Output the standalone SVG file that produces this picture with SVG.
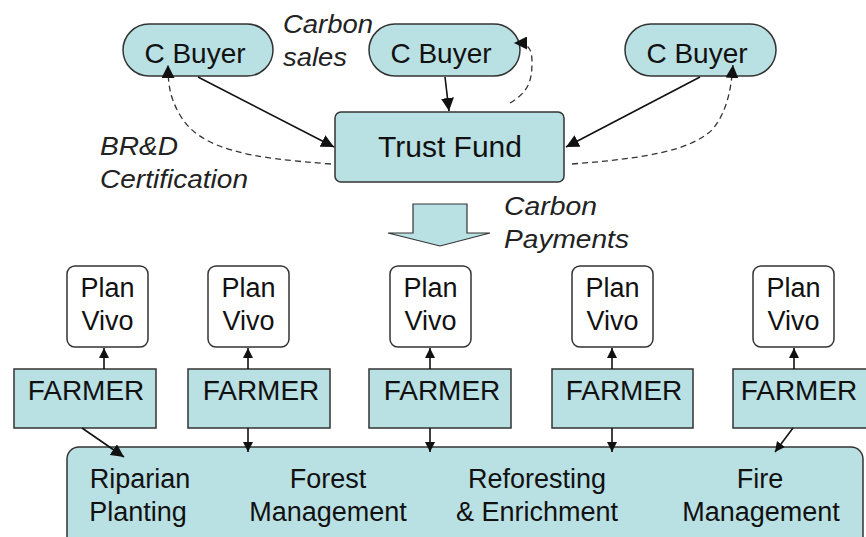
<svg xmlns="http://www.w3.org/2000/svg" width="866" height="537" viewBox="0 0 866 537">
<defs>
<style>
.box{fill:#b9e0e3;stroke:#333;stroke-width:1.5}
.pv{fill:#fff;stroke:#333;stroke-width:1.5}
.t{font-family:"Liberation Sans",Arial,sans-serif;fill:#111;text-anchor:middle}
.it{font-family:"Liberation Sans",Arial,sans-serif;font-style:italic;fill:#222;font-size:25px}
.solid{fill:none;stroke:#111;stroke-width:1.6}
.dash{fill:none;stroke:#333;stroke-width:1.3;stroke-dasharray:6,4}
</style>
<marker id="ah" viewBox="0 0 10 10" refX="10" refY="5" markerWidth="10" markerHeight="10" markerUnits="userSpaceOnUse" orient="auto">
<path d="M0,0 L10,5 L0,10 Z" fill="#111"/>
</marker>
<marker id="ahb" viewBox="0 0 10 10" refX="10" refY="5" markerWidth="13" markerHeight="13" markerUnits="userSpaceOnUse" orient="auto">
<path d="M0,0 L10,5 L0,10 Z" fill="#111"/>
</marker>
</defs>
<rect width="866" height="537" fill="#fff"/>

<g id="buyer1"><rect class="box" x="123" y="24" width="150" height="52" rx="26"/><text class="t" x="195" y="63" font-size="28">C Buyer</text></g>
<g id="buyer2"><rect class="box" x="369" y="24" width="151" height="52" rx="26"/><text class="t" x="441" y="63" font-size="28">C Buyer</text></g>
<g id="buyer3"><rect class="box" x="625" y="24" width="151" height="52" rx="26"/><text class="t" x="697" y="63" font-size="28">C Buyer</text></g>
<g id="trust"><rect class="box" x="335" y="112" width="229" height="70" rx="6"/><text class="t" x="450" y="157" font-size="30">Trust Fund</text></g>

<g id="labels">
<text class="it" x="283" y="33" textLength="90" lengthAdjust="spacingAndGlyphs">Carbon</text>
<text class="it" x="283" y="66" textLength="64" lengthAdjust="spacingAndGlyphs">sales</text>
<text class="it" x="100" y="155" textLength="78" lengthAdjust="spacingAndGlyphs">BR&amp;D</text>
<text class="it" x="100" y="188" textLength="148" lengthAdjust="spacingAndGlyphs">Certification</text>
<text class="it" x="504" y="215" textLength="93" lengthAdjust="spacingAndGlyphs">Carbon</text>
<text class="it" x="504" y="248" textLength="125" lengthAdjust="spacingAndGlyphs">Payments</text>
</g>

<g id="payarrow"><path d="M413,204 L467,204 L467,233 L490,233 L440,246 L388,233 L413,233 Z" fill="#b9e0e3" stroke="#333" stroke-width="1.2"/></g>

<g id="pv1"><rect class="pv" x="67" y="266" width="81" height="81" rx="8"/><text class="t" x="107.5" y="297" font-size="27">Plan</text><text class="t" x="107.5" y="330" font-size="27">Vivo</text></g>
<g id="pv2"><rect class="pv" x="208" y="266" width="81" height="81" rx="8"/><text class="t" x="248.5" y="297" font-size="27">Plan</text><text class="t" x="248.5" y="330" font-size="27">Vivo</text></g>
<g id="pv3"><rect class="pv" x="390" y="266" width="81" height="81" rx="8"/><text class="t" x="430.5" y="297" font-size="27">Plan</text><text class="t" x="430.5" y="330" font-size="27">Vivo</text></g>
<g id="pv4"><rect class="pv" x="572" y="266" width="81" height="81" rx="8"/><text class="t" x="612.5" y="297" font-size="27">Plan</text><text class="t" x="612.5" y="330" font-size="27">Vivo</text></g>
<g id="pv5"><rect class="pv" x="753" y="266" width="81" height="81" rx="8"/><text class="t" x="793.5" y="297" font-size="27">Plan</text><text class="t" x="793.5" y="330" font-size="27">Vivo</text></g>

<g id="f1"><rect class="box" x="14" y="369" width="142" height="59"/><text class="t" x="86" y="400" font-size="28">FARMER</text></g>
<g id="f2"><rect class="box" x="188" y="369" width="142" height="59"/><text class="t" x="261" y="400" font-size="28">FARMER</text></g>
<g id="f3"><rect class="box" x="369" y="369" width="142" height="59"/><text class="t" x="442" y="400" font-size="28">FARMER</text></g>
<g id="f4"><rect class="box" x="552" y="369" width="141" height="59"/><text class="t" x="624" y="400" font-size="28">FARMER</text></g>
<g id="f5"><rect class="box" x="733" y="369" width="142" height="59"/><text class="t" x="799" y="400" font-size="28">FARMER</text></g>

<g id="activities"><rect class="box" x="67" y="447" width="796" height="110" rx="12"/>
<text class="t" x="140" y="488" font-size="27">Riparian</text><text class="t" x="138" y="521" font-size="27">Planting</text>
<text class="t" x="328" y="488" font-size="27">Forest</text><text class="t" x="328" y="521" font-size="27">Management</text>
<text class="t" x="537" y="488" font-size="27">Reforesting</text><text class="t" x="537" y="521" font-size="27">&amp; Enrichment</text>
<text class="t" x="760" y="488" font-size="27">Fire</text><text class="t" x="761" y="521" font-size="27">Management</text>
</g>

<g id="connectors">
<line class="solid" x1="198" y1="77" x2="334" y2="147" marker-end="url(#ahb)"/>
<line class="solid" x1="445" y1="77" x2="449" y2="111" marker-end="url(#ahb)"/>
<line class="solid" x1="700" y1="77" x2="566" y2="147" marker-end="url(#ahb)"/>
<path class="dash" d="M331,164 C250,158 200,150 180,115 C170,98 168,85 168,65" marker-end="url(#ahb)"/>
<path class="dash" d="M510,103 C528,92 532,82 532,62 C532,48 528,43 514,43" marker-end="url(#ahb)"/>
<path class="dash" d="M572,164 C650,158 690,150 712,130 C727,112 731,90 733,65" marker-end="url(#ahb)"/>
<line class="solid" x1="104" y1="369" x2="104" y2="348" marker-end="url(#ah)"/>
<line class="solid" x1="248" y1="369" x2="248" y2="348" marker-end="url(#ah)"/>
<line class="solid" x1="430" y1="369" x2="430" y2="348" marker-end="url(#ah)"/>
<line class="solid" x1="612" y1="369" x2="612" y2="348" marker-end="url(#ah)"/>
<line class="solid" x1="794" y1="369" x2="794" y2="348" marker-end="url(#ah)"/>
<line class="solid" x1="82" y1="428" x2="124" y2="457" marker-end="url(#ahb)"/>
<line class="solid" x1="248" y1="428" x2="248" y2="452" marker-end="url(#ah)"/>
<line class="solid" x1="430" y1="428" x2="430" y2="452" marker-end="url(#ah)"/>
<line class="solid" x1="612" y1="428" x2="612" y2="452" marker-end="url(#ah)"/>
<line class="solid" x1="793" y1="428" x2="775" y2="452" marker-end="url(#ah)"/>
</g>
</svg>
